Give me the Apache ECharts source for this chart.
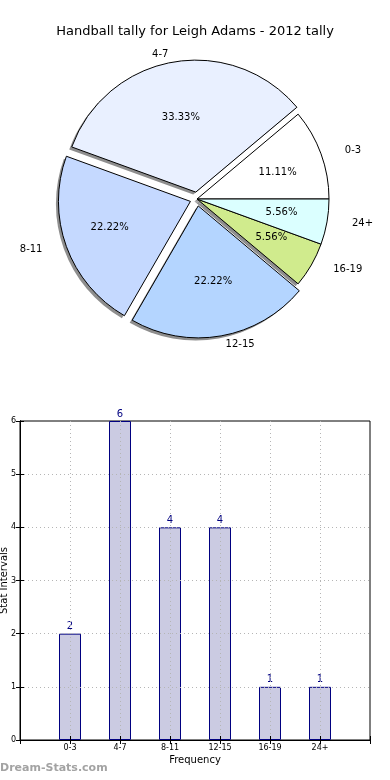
<!DOCTYPE html>
<html>
<head>
<meta charset="utf-8">
<script src="https://cdn.jsdelivr.net/npm/echarts@6/dist/echarts.min.js"></script>
<style>
html,body{margin:0;padding:0;background:#fff;}
#chart{width:390px;height:780px;}
</style>
</head>
<body>
<div id="chart"></div>
<script>
const titleText = 'Handball tally for Leigh Adams - 2012 tally';
const categories = ['0-3', '4-7', '8-11', '12-15', '16-19', '24+'];
const counts = [2, 6, 4, 4, 1, 1];
const explodedSlices = ['4-7', '8-11', '12-15'];
const xAxisName = 'Frequency';
const yAxisName = 'Stat Intervals';
const watermark = 'Dream-Stats.com';

const sliceColors = ['#ffffff', '#e9f0ff', '#c5d9ff', '#b4d5ff', '#d0eb8d', '#dbffff'];
const FONT = '"DejaVu Sans", sans-serif';
const total = counts.reduce((a, b) => a + b, 0);

// pie geometry (the reference pie is slightly elliptical; labels follow that ellipse)
const R = 132, OFF = 7;
const Rx = 143, Ry = 128, EXPL = 0.05;
const cx = 197, cy = 199;

let acc = 0;
const geo = counts.map((v, i) => {
  const mid = (acc + v / 2) / total * 2 * Math.PI;
  acc += v;
  const ux = Math.cos(mid), uy = -Math.sin(mid);
  const ex = explodedSlices.indexOf(categories[i]) >= 0;
  const e = ex ? EXPL : 0;
  // the library adds the selected offset after label layout, so take it off here
  const sx = ex ? OFF * ux : 0, sy = ex ? OFF * uy : 0;
  return {
    ex, ux,
    inX: cx + (0.6 + e) * Rx * ux - sx, inY: cy + (0.6 + e) * Ry * uy - sy,
    outX: cx + (1.1 + e) * Rx * ux - sx, outY: cy + (1.1 + e) * Ry * uy - sy
  };
});

const pieData = categories.map((c, i) => ({
  name: c, value: counts[i], selected: geo[i].ex,
  itemStyle: { color: sliceColors[i] }
}));
const shadowData = categories.map((c, i) => ({ name: c, value: counts[i], selected: geo[i].ex }));
const pctData = categories.map((c, i) => ({ name: c, value: counts[i], selected: geo[i].ex }));

const pieCommon = {
  type: 'pie',
  startAngle: 0,
  clockwise: false,
  selectedMode: 'multiple',
  selectedOffset: OFF,
  avoidLabelOverlap: false,
  silent: true,
  emphasis: { disabled: true }
};

const chart = echarts.init(document.getElementById('chart'), null, { renderer: 'canvas' });
chart.setOption({
  animation: false,
  backgroundColor: '#ffffff',
  textStyle: { fontFamily: FONT },
  title: {
    text: titleText,
    left: 'center',
    top: 20,
    textStyle: { fontFamily: FONT, fontSize: 13, fontWeight: 'normal', color: '#000' }
  },
  graphic: [{
    type: 'text',
    left: 0,
    top: 763,
    style: { text: watermark, fill: '#a3a3a3', font: 'bold 11px "DejaVu Sans", sans-serif' }
  }],
  grid: {
    left: 20, right: 20, top: 421, bottom: 40,
    outerBoundsMode: 'none', containLabel: false,
    show: true, borderColor: '#000', borderWidth: 1, backgroundColor: 'transparent'
  },
  xAxis: [{
    type: 'value', min: 0, max: 7, interval: 1, z: 5,
    name: xAxisName, nameLocation: 'middle', nameGap: 15,
    nameTextStyle: { fontFamily: FONT, fontSize: 10, color: '#000' },
    axisLine: { show: true, lineStyle: { color: '#000', width: 1 } },
    axisTick: { show: true, inside: true, length: 4, lineStyle: { color: '#000' } },
    axisLabel: {
      fontFamily: FONT, fontSize: 8, color: '#000', margin: 4,
      formatter: v => categories[v - 1] || ''
    },
    splitLine: { show: true, showMinLine: false, showMaxLine: false, lineStyle: { color: '#b5b5b5', type: [1, 3] } }
  }, {
    type: 'value', min: 0, max: 7, interval: 1, position: 'top', z: 5,
    axisLine: { show: true, lineStyle: { color: '#000' } },
    axisTick: { show: true, inside: true, length: 4, lineStyle: { color: '#000' } },
    axisLabel: { show: false }, splitLine: { show: false }
  }],
  yAxis: [{
    type: 'value', min: 0, max: 6, interval: 1, z: 5,
    name: yAxisName, nameLocation: 'middle', nameGap: 11, nameMoveOverlap: false,
    nameTextStyle: { fontFamily: FONT, fontSize: 10, color: '#000' },
    axisLine: { show: true, lineStyle: { color: '#000', width: 1 } },
    axisTick: { show: true, inside: true, length: 4, lineStyle: { color: '#000' } },
    axisLabel: { fontFamily: FONT, fontSize: 8, color: '#000', margin: 4 },
    splitLine: { show: true, showMinLine: false, showMaxLine: false, lineStyle: { color: '#b5b5b5', type: [1, 3] } }
  }, {
    type: 'value', min: 0, max: 6, interval: 1, position: 'right', z: 5,
    axisLine: { show: true, lineStyle: { color: '#000' } },
    axisTick: { show: true, inside: true, length: 4, lineStyle: { color: '#000' } },
    axisLabel: { show: false }, splitLine: { show: false }
  }],
  series: [Object.assign({}, pieCommon, {
    name: 'shadow',
    center: [cx - 2.5, cy + 2.5],
    radius: [0, R],
    itemStyle: { color: '#8e8e8e', borderWidth: 0 },
    label: { show: false },
    labelLine: { show: false },
    data: shadowData
  }), Object.assign({}, pieCommon, {
    center: [cx, cy],
    radius: [0, R],
    itemStyle: { borderColor: '#000', borderWidth: 1 },
    label: {
      show: true, position: 'outside', distanceToLabelLine: 0,
      fontFamily: FONT, fontSize: 10, color: '#000',
      formatter: '{b}'
    },
    labelLine: { show: false, length: 0, length2: 0 },
    labelLayout: function (p) {
      const g = geo[p.dataIndex], r = p.labelRect;
      const tx = g.ux >= 0 ? r.x : r.x + r.width;
      return { dx: g.outX - tx, dy: g.outY - (r.y + r.height / 2) };
    },
    data: pieData
  }), Object.assign({}, pieCommon, {
    center: [cx, cy],
    radius: [R * 0.5, R * 0.7],
    itemStyle: { color: 'rgba(0,0,0,0)', borderWidth: 0 },
    label: {
      show: true, position: 'inside',
      fontFamily: FONT, fontSize: 10, color: '#000',
      formatter: p => (p.value / total * 100).toFixed(2) + '%'
    },
    labelLine: { show: false },
    labelLayout: function (p) {
      const g = geo[p.dataIndex], r = p.labelRect;
      return { dx: g.inX - (r.x + r.width / 2), dy: g.inY - (r.y + r.height / 2) };
    },
    data: pctData
  }), {
    type: 'bar',
    xAxisIndex: 0, yAxisIndex: 0,
    barWidth: 22,
    z: 2,
    itemStyle: { color: '#cbcbe2', borderColor: '#000080', borderWidth: 1 },
    label: { show: true, position: 'top', distance: 2, fontFamily: FONT, fontSize: 10, color: '#000080' },
    data: categories.map((c, i) => [i + 1, counts[i]])
  }]
});
</script>
</body>
</html>
